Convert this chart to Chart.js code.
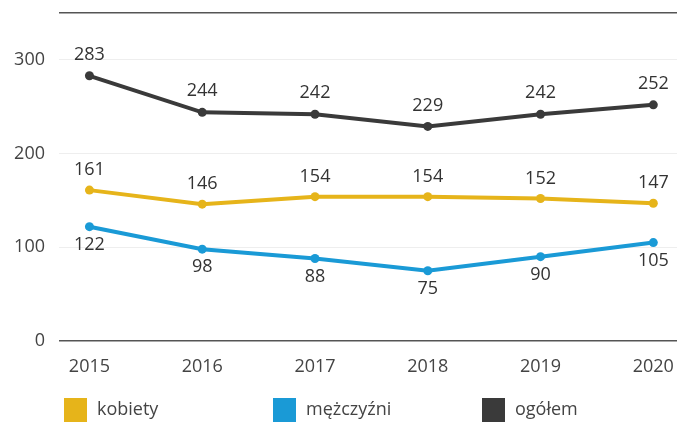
<!DOCTYPE html>
<html>
<head>
<meta charset="utf-8">
<script src="https://cdn.jsdelivr.net/npm/chart.js"></script>
<style>
  html, body { margin: 0; padding: 0; background: #fff; overflow: hidden; }
  #wrap { width: 677px; height: 430px; }
</style>
</head>
<body>
<div id="wrap"><canvas id="chart" width="677" height="430"></canvas></div>
<script>
const years = [2015, 2016, 2017, 2018, 2019, 2020];
const kobiety = [161, 146, 154, 154, 152, 147];
const mezczyzni = [122, 98, 88, 75, 90, 105];
const ogolem = [283, 244, 242, 229, 242, 252];
const yTicks = [0, 100, 200, 300];

const FONT = "'Open Sans', sans-serif";

// values next to each point
const pointLabels = {
  id: "pointLabels",
  afterDatasetsDraw(chart) {
    const ctx = chart.ctx;
    ctx.save();
    ctx.font = "18px " + FONT;
    ctx.fillStyle = "#333";
    ctx.textAlign = "center";
    ctx.textBaseline = "middle";
    chart.data.datasets.forEach((ds, i) => {
      const meta = chart.getDatasetMeta(i);
      meta.data.forEach((pt, j) => {
        ctx.fillText(String(ds.data[j].y), pt.x, pt.y + ds.labelShift);
      });
    });
    ctx.restore();
  },
};

// legend with evenly spaced items under the axis
const spacedLegend = {
  id: "spacedLegend",
  afterDraw(chart) {
    const ctx = chart.ctx;
    const startX = 64, step = 209, top = 398, box = 23;
    ctx.save();
    ctx.font = "18px " + FONT;
    ctx.textBaseline = "middle";
    ctx.textAlign = "left";
    chart.data.datasets.forEach((ds, i) => {
      const x = startX + i * step;
      ctx.fillStyle = ds.borderColor;
      ctx.fillRect(x, top, box, box + 2);
      ctx.fillStyle = "#444";
      ctx.fillText(ds.label, x + 33, top + 12);
    });
    ctx.restore();
  },
};

const toPoints = (arr) => arr.map((v, i) => ({ x: years[i], y: v }));

new Chart(document.getElementById("chart").getContext("2d"), {
  type: "line",
  data: {
    datasets: [
      {
        label: "kobiety",
        data: toPoints(kobiety),
        borderColor: "#e6b41a",
        backgroundColor: "#e6b41a",
        labelShift: -20,
      },
      {
        label: "mężczyźni",
        data: toPoints(mezczyzni),
        borderColor: "#1a9ad6",
        backgroundColor: "#1a9ad6",
        labelShift: 18,
      },
      {
        label: "ogółem",
        data: toPoints(ogolem),
        borderColor: "#3a3a3a",
        backgroundColor: "#3a3a3a",
        labelShift: -21,
      },
    ],
  },
  options: {
    responsive: false,
    animation: false,
    layout: { autoPadding: false, padding: { left: 10, right: 0, top: 13, bottom: 39 } },
    elements: {
      line: { borderWidth: 4, tension: 0 },
      point: { radius: 4.5, borderWidth: 0 },
    },
    scales: {
      x: {
        type: "linear",
        min: 2014.73,
        max: 2020.21,
        afterBuildTicks: (s) => { s.ticks = years.map((v) => ({ value: v })); },
        afterFit: (s) => { s.height = 50; s.paddingLeft = 0; s.paddingRight = 0; },
        grid: { display: false, drawTicks: false },
        border: { display: false },
        ticks: {
          padding: 15,
          color: "#444",
          font: { family: FONT, size: 18 },
          callback: (v) => String(v),
        },
      },
      y: {
        min: 0,
        max: 350,
        afterBuildTicks: (s) => { s.ticks = yTicks.concat([350]).map((v) => ({ value: v })); },
        afterFit: (s) => { s.width = 49; s.paddingTop = 0; s.paddingBottom = 0; },
        grid: {
          drawTicks: false,
          color: (c) => (c.tick.value === 0 || c.tick.value === 350 ? "#555" : "#eeeeee"),
          lineWidth: (c) => (c.tick.value === 0 || c.tick.value === 350 ? 1.5 : 1),
        },
        border: { display: false },
        ticks: {
          padding: 14,
          color: "#444",
          font: { family: FONT, size: 18 },
          callback: (v) => (yTicks.includes(v) ? String(v) : ""),
        },
      },
    },
    plugins: {
      legend: { display: false },
      tooltip: { enabled: false },
    },
  },
  plugins: [pointLabels, spacedLegend],
});
</script>
</body>
</html>
